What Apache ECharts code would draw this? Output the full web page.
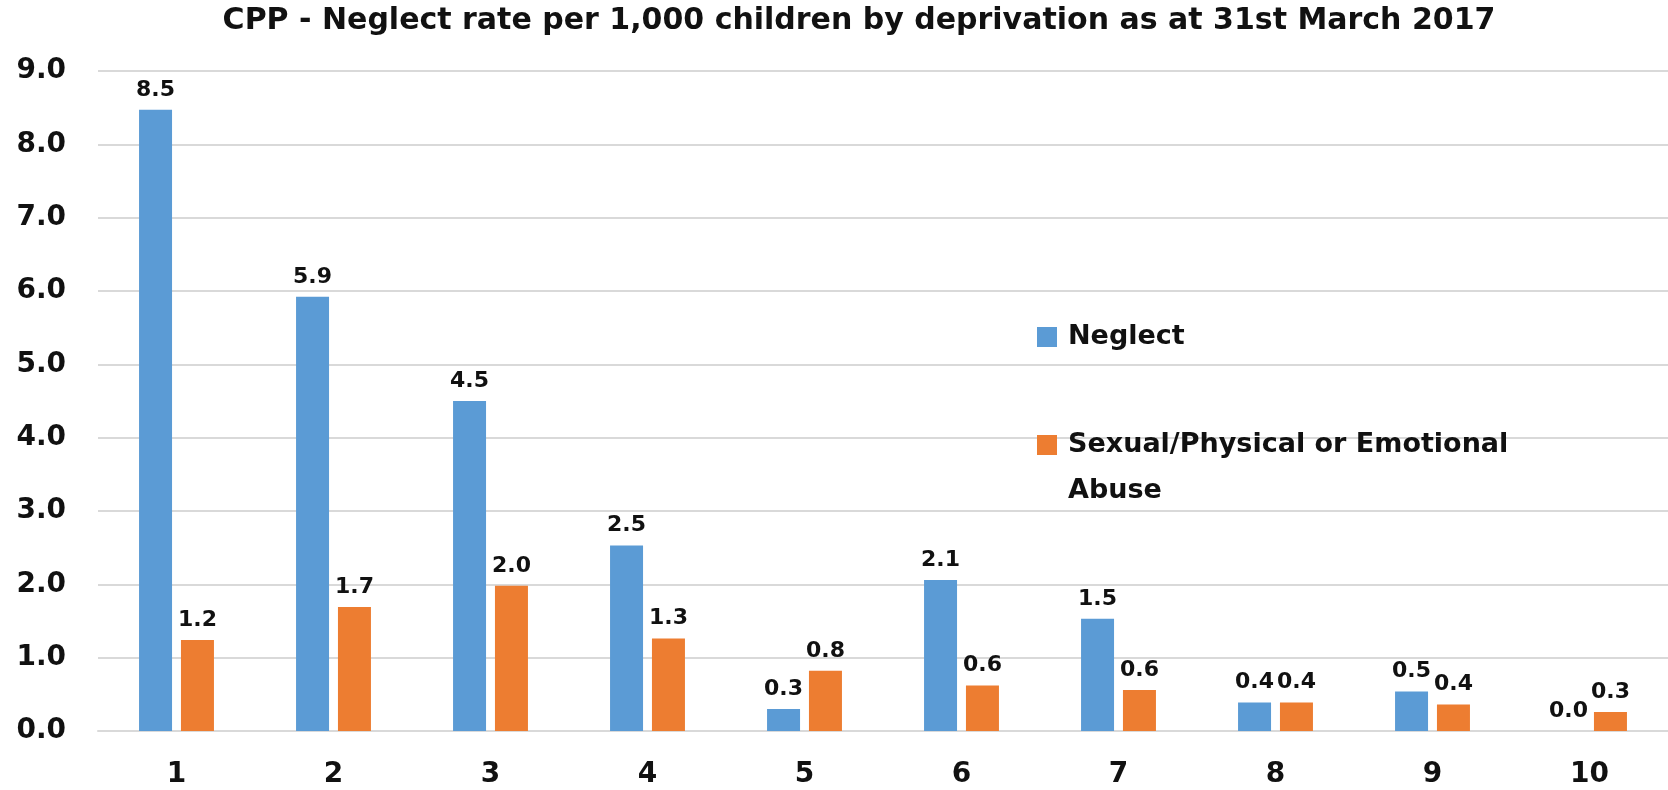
<!DOCTYPE html>
<html>
<head>
<meta charset="utf-8">
<script src="https://cdn.jsdelivr.net/npm/echarts@6/dist/echarts.min.js"></script>
<style>
html,body{margin:0;padding:0;background:#fff;}
#chart{width:1668px;height:790px;}
</style>
</head>
<body>
<div id="chart"></div>
<script>
var titleText = 'CPP - Neglect rate per 1,000 children by deprivation as at 31st March 2017';
var categories = ['1', '2', '3', '4', '5', '6', '7', '8', '9', '10'];
var seriesNames = ['Neglect', 'Sexual/Physical or Emotional Abuse'];
var neglect = [8.47, 5.92, 4.50, 2.53, 0.30, 2.06, 1.53, 0.39, 0.54, 0.0];
var abuse = [1.24, 1.69, 1.98, 1.26, 0.82, 0.62, 0.56, 0.39, 0.36, 0.26];
var yMin = 0, yMax = 9, yInterval = 1;

var FONT = 'DejaVu Sans';
var chart = echarts.init(document.getElementById('chart'), null, {renderer: 'canvas'});

var labelStyle = {
  show: true,
  position: 'top',
  distance: 9,
  fontFamily: FONT,
  fontWeight: 'bold',
  fontSize: 22,
  color: '#111',
  formatter: function (p) { return Number(p.value).toFixed(1); }
};

chart.setOption({
  backgroundColor: '#ffffff',
  animation: false,
  title: {
    text: titleText,
    left: 854,
    textAlign: 'center',
    top: 1,
    textStyle: {fontFamily: FONT, fontWeight: 'bold', fontSize: 30, color: '#111'}
  },
  legend: [
    {
      data: [seriesNames[0]],
      left: 1037,
      top: 320,
      padding: 0,
      itemWidth: 20,
      itemHeight: 20,
      icon: 'rect',
      selectedMode: false,
      textStyle: {fontFamily: FONT, fontWeight: 'bold', fontSize: 27, color: '#111', lineHeight: 34, padding: [0, 0, 0, 6]}
    },
    {
      data: [seriesNames[1]],
      left: 1037,
      top: 376,
      padding: 0,
      itemWidth: 20,
      itemHeight: 20,
      icon: 'rect',
      selectedMode: false,
      formatter: function () { return '\nSexual/Physical or Emotional\nAbuse'; },
      textStyle: {fontFamily: FONT, fontWeight: 'bold', fontSize: 27, color: '#111', lineHeight: 46, padding: [0, 0, 0, 6]}
    }
  ],
  grid: {left: 98, top: 71, width: 1596, height: 660, containLabel: false},
  xAxis: {
    type: 'category',
    data: categories,
    axisLine: {show: true, lineStyle: {color: '#d9d9d9', width: 2}},
    axisTick: {show: false},
    axisLabel: {fontFamily: FONT, fontWeight: 'bold', fontSize: 28, color: '#111', margin: 30}
  },
  yAxis: {
    type: 'value',
    min: yMin,
    max: yMax,
    interval: yInterval,
    axisLine: {show: false},
    axisTick: {show: false},
    splitLine: {lineStyle: {color: '#d9d9d9', width: 2}},
    axisLabel: {
      fontFamily: FONT, fontWeight: 'bold', fontSize: 28, color: '#111', margin: 32,
      formatter: function (v) { return v.toFixed(1); }
    }
  },
  series: [
    {
      name: seriesNames[0],
      type: 'bar',
      data: neglect,
      barWidth: 33,
      barGap: '27%',
      itemStyle: {color: '#5B9BD5'},
      label: labelStyle
    },
    {
      name: seriesNames[1],
      type: 'bar',
      data: abuse,
      barWidth: 33,
      barGap: '27%',
      itemStyle: {color: '#ED7D31'},
      label: labelStyle
    }
  ]
});
</script>
</body>
</html>
